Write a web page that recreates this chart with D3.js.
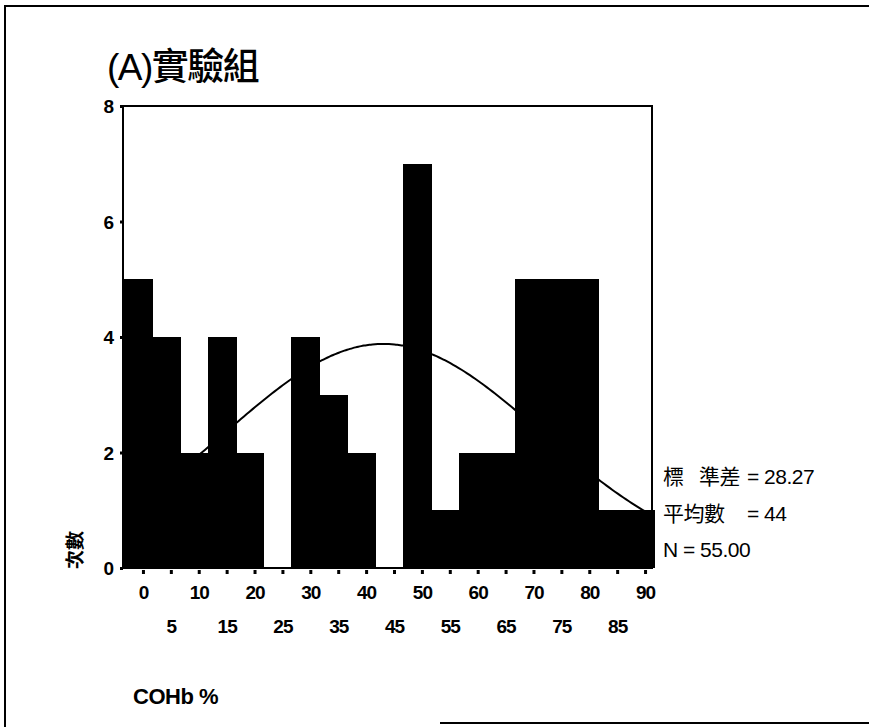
<!DOCTYPE html>
<html>
<head>
<meta charset="utf-8">
<script src="https://cdn.jsdelivr.net/npm/d3@7"></script>
<style>
  html, body { margin: 0; padding: 0; background: #fff; }
  svg { display: block; }
  text { fill: #000; }
</style>
</head>
<body>
<svg id="chart" width="869" height="727"></svg>
<script>
// COHb % histogram, bin width 5, bins centred on 0, 5, ..., 90
const binCenters = [0, 5, 10, 15, 20, 25, 30, 35, 40, 45, 50, 55, 60, 65, 70, 75, 80, 85, 90];
const frequencies = [5, 4, 2, 4, 2, 0, 4, 3, 2, 0, 7, 1, 2, 2, 5, 5, 5, 1, 1];
const yTicks = [0, 2, 4, 6, 8];
const xTicksUpper = [0, 10, 20, 30, 40, 50, 60, 70, 80, 90];
const xTicksLower = [5, 15, 25, 35, 45, 55, 65, 75, 85];

// summary statistics printed beside the plot
const statMean = 44;
const statSD = 28.27;
const statN = 55;
const binWidth = 5;

const titleText = "(A)實驗組";
const yLabelText = "次數";
const xLabelText = "COHb %";

const svg = d3.select("#chart");
const numFont = "'Liberation Sans Narrow', 'Liberation Sans', Arial, sans-serif";
const cjkFont = "'Noto Sans CJK TC', 'Noto Sans CJK SC', sans-serif";

// page frame (left, top and a stretch of the bottom edge)
svg.append("path")
  .attr("d", "M5,727 V6 H869")
  .attr("fill", "none").attr("stroke", "#000").attr("stroke-width", 2);
svg.append("line")
  .attr("x1", 440).attr("x2", 869).attr("y1", 723).attr("y2", 723)
  .attr("stroke", "#000").attr("stroke-width", 2);

const plot = { left: 123, right: 652, top: 106, bottom: 568 };

const x = d3.scaleLinear()
  .domain([-binWidth / 2, 90 + binWidth / 2])
  .range([124, 654]);
const y = d3.scaleLinear()
  .domain([0, 8])
  .range([plot.bottom, plot.top]);

// title
svg.append("text")
  .attr("x", 107).attr("y", 80)
  .attr("font-family", "'Liberation Sans', " + cjkFont)
  .attr("font-size", 37)
  .attr("font-weight", 500)
  .attr("letter-spacing", -1.5)
  .text(titleText);

// bars (slightly widened so neighbouring bins merge into one solid block)
svg.append("g").attr("shape-rendering", "crispEdges").selectAll("rect")
  .data(binCenters.map((c, i) => ({ c, f: frequencies[i] })))
  .join("rect")
  .attr("x", d => x(d.c - binWidth / 2))
  .attr("width", d => x(d.c + binWidth / 2) - x(d.c - binWidth / 2) + 1)
  .attr("y", d => y(d.f))
  .attr("height", d => y(0) - y(d.f))
  .attr("fill", "#000");

// fitted normal curve scaled to counts per bin
const curveXs = d3.range(-2.5, 92.51, 0.5);
const normal = v => statN * binWidth / (statSD * Math.sqrt(2 * Math.PI)) *
  Math.exp(-0.5 * Math.pow((v - statMean) / statSD, 2));
svg.append("path")
  .datum(curveXs)
  .attr("d", d3.line().x(v => x(v)).y(v => y(normal(v))).curve(d3.curveBasis))
  .attr("fill", "none").attr("stroke", "#000").attr("stroke-width", 2);

// plot frame
svg.append("rect")
  .attr("x", plot.left).attr("y", plot.top)
  .attr("width", plot.right - plot.left).attr("height", plot.bottom - plot.top)
  .attr("fill", "none").attr("stroke", "#000").attr("stroke-width", 2);

// y axis
const yAxis = svg.append("g")
  .attr("transform", `translate(${plot.left},0)`)
  .call(d3.axisLeft(y).tickValues(yTicks).tickSize(3).tickPadding(6).tickFormat(d3.format("d")));
yAxis.select(".domain").remove();
yAxis.selectAll("line").attr("stroke-width", 3);
yAxis.selectAll("text")
  .attr("font-family", numFont).attr("font-size", 19).attr("font-weight", "bold")
  .attr("dy", "0.35em");

// x axis: ticks every 5, labels alternating between two rows
const xAxis = svg.append("g")
  .attr("transform", `translate(5,${plot.bottom + 2})`)
  .call(d3.axisBottom(x).tickValues(binCenters).tickSize(4).tickPadding(12)
    .tickFormat(d3.format("d")));
xAxis.select(".domain").remove();
xAxis.selectAll("line").attr("stroke-width", 3);
xAxis.selectAll("text")
  .attr("font-family", numFont).attr("font-size", 19).attr("font-weight", "bold")
  .attr("letter-spacing", -1)
  .attr("dy", d => xTicksLower.includes(d) ? "2.45em" : "0.71em");

// y label
svg.append("text")
  .attr("transform", "translate(82,550) rotate(-90)")
  .attr("text-anchor", "middle")
  .attr("font-family", cjkFont).attr("font-size", 19).attr("font-weight", "bold")
  .text(yLabelText);

// x label
svg.append("text")
  .attr("x", 133).attr("y", 704)
  .attr("font-family", "'Liberation Sans', Arial, sans-serif")
  .attr("font-size", 22).attr("font-weight", "bold")
  .attr("letter-spacing", -0.5)
  .text(xLabelText);

// statistics block: label, "=" and value placed in their own columns
const stats = svg.append("g")
  .attr("font-family", "'Liberation Sans', " + cjkFont)
  .attr("font-size", 21)
  .attr("letter-spacing", -0.5);
stats.append("text").attr("x", 663).attr("y", 484).text("標");
stats.append("text").attr("x", 699).attr("y", 484).text("準差");
stats.append("text").attr("x", 747).attr("y", 484).text(`= ${statSD.toFixed(2)}`);
stats.append("text").attr("x", 663).attr("y", 521).text("平均數");
stats.append("text").attr("x", 747).attr("y", 521).text(`= ${statMean}`);
stats.append("text").attr("x", 663).attr("y", 557).text(`N = ${statN.toFixed(2)}`);
</script>
</body>
</html>
